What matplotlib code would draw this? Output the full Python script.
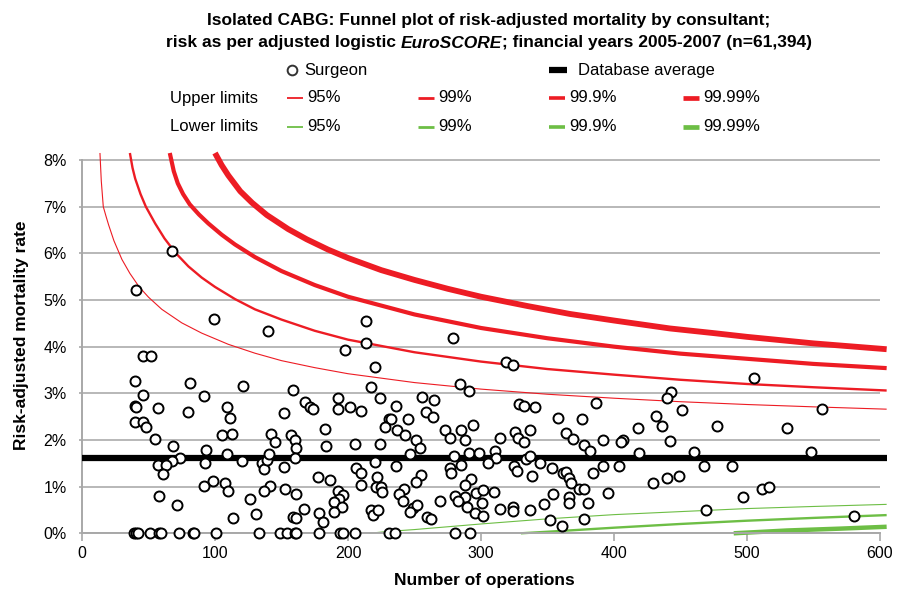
import matplotlib
matplotlib.use('Agg')
import matplotlib.pyplot as plt
from matplotlib.lines import Line2D

plt.rcParams['font.family'] = ['Liberation Sans Narrow', 'Liberation Sans', 'DejaVu Sans']

# ---------------- data ----------------
ops_0_100 = [67.7, 40.6, 99.5, 45.6, 52.1, 39.6, 81.5, 45.6, 92, 39.6, 40.6, 57.3, 79.7, 39.6,
             46.2, 48, 54.6, 68.7, 93, 73.5, 68, 57.5, 63.5, 61, 92.5, 98.5, 91.5, 58, 71.5]
rate_0_100 = [6.06, 5.21, 4.6, 3.81, 3.81, 3.26, 3.22, 2.96, 2.95, 2.73, 2.71, 2.68, 2.59, 2.39,
              2.39, 2.28, 2.02, 1.88, 1.79, 1.61, 1.56, 1.46, 1.46, 1.28, 1.50, 1.12, 1.02, 0.81, 0.61]

ops_100_200 = [139.6, 197.5, 120.8, 158.9, 167.7, 171.4, 173.4, 192.5, 192.5, 201.5, 108.8, 111.5,
               151.9, 105, 112.5, 141.9, 144.8, 157, 160.5, 160.8, 182.7, 183.8, 108.8, 120.4,
               135.5, 137, 138.8, 140.8, 151.9, 160.2, 107.2, 109.6, 177.5, 186.8, 141.2, 136.5,
               152.3, 160.8, 126.5, 192.7, 196.5, 193.2, 189.7, 195.3, 189.7, 166.7, 130.7, 113.7,
               158.6, 160.7, 178, 181]
rate_100_200 = [4.34, 3.93, 3.16, 3.07, 2.81, 2.70, 2.67, 2.91, 2.66, 2.71, 2.70, 2.47,
                2.57, 2.10, 2.13, 2.13, 1.96, 2.10, 1.99, 1.83, 2.24, 1.88, 1.70, 1.55,
                1.50, 1.37, 1.57, 1.69, 1.43, 1.61, 1.07, 0.91, 1.21, 1.15, 1.02, 0.91,
                0.94, 0.84, 0.74, 0.91, 0.82, 0.74, 0.68, 0.57, 0.46, 0.52, 0.41, 0.32,
                0.34, 0.33, 0.43, 0.25]

ops_200_300 = [213.8, 279, 213.8, 220, 284, 290.7, 217.5, 223.8, 255.6, 264.7, 210, 235.8,
               230.6, 232, 228, 245, 258.9, 264.2, 237, 243, 251.4, 253.9, 246.4, 272.7,
               276.4, 285.2, 288.2, 294, 205.5, 223.8, 279.7, 285.2, 290.7, 298.5, 220, 235.8,
               206, 210, 277, 277.7, 255, 251.4, 292.2, 287.7, 210, 222, 221.3, 225,
               225.8, 242, 238, 241.4, 269, 280.7, 288.2, 296.5, 282.7, 289.7, 295.2, 301,
               217.5, 218.8, 222.6, 248.9, 252.1, 246.4, 259.6, 262.2]
rate_200_300 = [4.56, 4.18, 4.07, 3.57, 3.21, 3.05, 3.14, 2.91, 2.93, 2.86, 2.63, 2.73,
                2.46, 2.46, 2.28, 2.46, 2.59, 2.49, 2.21, 2.11, 2.0, 1.82, 1.71, 2.21,
                2.04, 2.21, 2.0, 2.32, 1.91, 1.91, 1.66, 1.46, 1.73, 1.73, 1.53, 1.44,
                1.39, 1.29, 1.39, 1.30, 1.25, 1.11, 1.16, 1.03, 1.03, 1.20, 1.00, 0.99,
                0.89, 0.96, 0.84, 0.70, 0.70, 0.80, 0.78, 0.86, 0.70, 0.57, 0.43, 0.66,
                0.50, 0.39, 0.50, 0.54, 0.61, 0.46, 0.34, 0.30]

ops_300_400 = [318.8, 324.3, 386.5, 328.8, 332, 340.9, 357.6, 376, 337, 325.8, 327.6, 332,
               363.9, 368.9, 314.3, 391.5, 377.2, 382.2, 310.8, 311.3, 305.5, 333.8, 337, 344.6,
               325, 327, 338, 353.4, 361.4, 363.9, 366.4, 367.7, 384, 391.5, 374, 377.2,
               301.5, 301.5, 310, 353.9, 366.4, 366.4, 347.6, 380.2, 395.2, 314.5, 323.8, 324.3,
               336.8, 352.1, 360.9, 377.2]
rate_300_400 = [3.68, 3.61, 2.79, 2.77, 2.73, 2.71, 2.48, 2.44, 2.21, 2.18, 2.04, 1.96,
                2.14, 2.02, 2.04, 2.0, 1.89, 1.76, 1.77, 1.62, 1.50, 1.59, 1.66, 1.50,
                1.45, 1.33, 1.23, 1.40, 1.29, 1.31, 1.18, 1.07, 1.30, 1.45, 0.95, 0.96,
                0.93, 0.37, 0.88, 0.84, 0.77, 0.66, 0.63, 0.66, 0.87, 0.52, 0.57, 0.48,
                0.50, 0.29, 0.16, 0.30]

ops_400_500 = [442.6, 439.6, 451.4, 431.8, 436.3, 418, 477.2, 407, 405.5, 442.1, 418.8, 460.2,
               403.8, 467.7, 489, 440.1, 448.9, 429.3, 497.2, 468.9]
rate_400_500 = [3.02, 2.91, 2.64, 2.51, 2.30, 2.26, 2.29, 2.0, 1.95, 1.98, 1.73, 1.75,
                1.45, 1.45, 1.45, 1.19, 1.23, 1.07, 0.78, 0.50]

ops_500_600 = [505.2, 556.1, 530.3, 547.8, 511, 516.8, 580.4]
rate_500_600 = [3.32, 2.66, 2.26, 1.74, 0.95, 0.99, 0.37]

ops_zero_deaths = [38.8, 40.5, 42, 50.9, 58, 59.4, 72.7, 83.5, 84.5, 100.5, 133, 149, 154, 160,
                   161, 178, 194, 196, 205, 230.6, 235, 280.7, 291.5]

database_average = 1.62

upper95_n = [13.5, 14.5, 16, 18, 20, 24, 30, 36, 43, 50, 60, 75, 90, 110, 130, 150, 175, 200,
             250, 300, 350, 400, 450, 500, 550, 605]
upper95_rate = [8.15, 7.55, 7.0, 6.80, 6.61, 6.27, 5.87, 5.57, 5.28, 5.06, 4.80, 4.51, 4.29,
                4.05, 3.86, 3.70, 3.55, 3.42, 3.23, 3.09, 2.98, 2.895, 2.82, 2.76, 2.71, 2.66]
upper99_n = [36, 38, 40, 44, 48, 55, 62, 70, 80, 90, 100, 115, 130, 150, 175, 200, 250, 300,
             350, 400, 450, 500, 550, 605]
upper99_rate = [8.15, 7.83, 7.60, 7.27, 7.00, 6.64, 6.32, 6.02, 5.72, 5.48, 5.28, 5.02, 4.80,
                4.58, 4.34, 4.15, 3.88, 3.68, 3.52, 3.40, 3.29, 3.20, 3.13, 3.06]
upper999_n = [66, 69, 72, 76, 81, 88, 95, 105, 115, 130, 150, 175, 200, 250, 300, 350, 400,
              450, 500, 550, 605]
upper999_rate = [8.15, 7.76, 7.50, 7.27, 7.05, 6.83, 6.64, 6.40, 6.19, 5.92, 5.62, 5.32, 5.07,
                 4.69, 4.40, 4.18, 4.00, 3.85, 3.74, 3.63, 3.54]
upper9999_n = [100, 105, 110, 119, 128, 139, 155, 169, 185, 200, 225, 250, 275, 300, 335, 367,
               400, 442, 475, 500, 550, 605]
upper9999_rate = [8.15, 7.89, 7.67, 7.33, 7.08, 6.82, 6.52, 6.30, 6.08, 5.90, 5.64, 5.43, 5.24,
                  5.07, 4.87, 4.70, 4.56, 4.39, 4.29, 4.21, 4.07, 3.945]

lower95_n = [216, 230, 250, 275, 300, 350, 400, 450, 500, 550, 605]
lower95_rate = [0.0, 0.04, 0.08, 0.14, 0.20, 0.31, 0.40, 0.465, 0.53, 0.575, 0.62]
lower99_n = [330, 360, 400, 450, 500, 550, 605]
lower99_rate = [0.0, 0.05, 0.12, 0.20, 0.27, 0.33, 0.39]
lower999_n = [490, 530, 570, 605]
lower999_rate = [0.0, 0.06, 0.10, 0.14]

x_ticks = [0, 100, 200, 300, 400, 500, 600]
y_ticks = [0, 1, 2, 3, 4, 5, 6, 7, 8]
y_tick_labels = ['0%', '1%', '2%', '3%', '4%', '5%', '6%', '7%', '8%']

# ---------------- figure ----------------
W, H = 898, 591
fig = plt.figure(figsize=(W / 100, H / 100), dpi=100)
ax = fig.add_axes([82 / W, 57.7 / H, (880 - 82) / W, (438 - 57.7) / H])
ax.set_xlim(0, 600)
ax.set_ylim(0, 8.15)

RED = '#ED1C24'
GREEN = '#6DBE45'
GRID = '#b8b8b8'

ax.set_yticks(y_ticks)
ax.set_yticklabels(y_tick_labels)
ax.set_xticks(x_ticks)
ax.yaxis.grid(True, color=GRID, lw=1.4, zorder=0)
ax.set_axisbelow(True)
for s in ['top', 'right']:
    ax.spines[s].set_visible(False)
for s in ['left', 'bottom']:
    ax.spines[s].set_color('#a8a8a8')
    ax.spines[s].set_linewidth(1.4)
ax.spines['left'].set_bounds(0, 8)
ax.tick_params(axis='x', direction='out', length=6, width=1.2, color='#a8a8a8', pad=3, labelsize=11.5)
ax.tick_params(axis='y', length=2, width=1.2, color='#a8a8a8', pad=9, labelsize=11.5)

upper = [(upper95_n, upper95_rate, 0.8), (upper99_n, upper99_rate, 1.7),
         (upper999_n, upper999_rate, 3.0), (upper9999_n, upper9999_rate, 4.2)]
for n, r, lw in upper:
    ax.plot(n, r, color=RED, lw=lw, solid_capstyle='butt', solid_joinstyle='round',
            clip_on=False, zorder=2)
lower = [(lower95_n, lower95_rate, 0.8), (lower99_n, lower99_rate, 1.7),
         (lower999_n, lower999_rate, 3.2)]
for n, r, lw in lower:
    ax.plot(n, r, color=GREEN, lw=lw, solid_capstyle='butt', solid_joinstyle='round',
            clip_on=False, zorder=2)

ax.plot([0, 605], [database_average, database_average], color='black', lw=4.5,
        solid_capstyle='butt', clip_on=False, zorder=3)

all_ops = (ops_0_100 + ops_100_200 + ops_200_300 + ops_300_400 + ops_400_500 + ops_500_600
           + ops_zero_deaths)
all_rate = (rate_0_100 + rate_100_200 + rate_200_300 + rate_300_400 + rate_400_500 + rate_500_600
            + [0.0] * len(ops_zero_deaths))
ax.plot(all_ops, all_rate, linestyle='none', marker='o', ms=7.2, mfc='white', mec='black',
        mew=1.4, clip_on=False, zorder=4)

# axis labels
fig.text(484 / W, 1 - 580 / H, 'Number of operations', ha='center', va='center',
         fontsize=12.5, fontweight='bold')
fig.text(22 / W, 1 - 335 / H, 'Risk-adjusted mortality rate', ha='center', va='center',
         rotation=90, fontsize=12.5, fontweight='bold')

# title
TFS = 12.5
fig.text(489 / W, 1 - 20 / H,
         'Isolated CABG: Funnel plot of risk-adjusted mortality by consultant;',
         ha='center', va='center', fontsize=TFS, fontweight='bold')
renderer = fig.canvas.get_renderer()
parts = [('risk as per adjusted logistic ', 'normal'), ('EuroSCORE', 'italic'),
         ('; financial years 2005-2007 (n=61,394)', 'normal')]
texts = [fig.text(0, 1 - 43 / H, s, ha='left', va='center', fontsize=TFS,
                  fontweight='bold', style=st) for s, st in parts]
widths = [t.get_window_extent(renderer).width for t in texts]
xstart = 489 - sum(widths) / 2
for t, w in zip(texts, widths):
    t.set_x(xstart / W)
    xstart += w

# legend
LFS = 12


def fy(py):
    return 1 - py / H


def fx(px):
    return px / W


fig.add_artist(Line2D([fx(292)], [fy(70)], marker='o', ms=7, mfc='white', mec='#333333',
                      mew=1.4, linestyle='none'))
fig.text(fx(304), fy(70), 'Surgeon', ha='left', va='center', fontsize=LFS)
fig.add_artist(Line2D([fx(549), fx(567)], [fy(70), fy(70)], color='black', lw=4.5,
                      solid_capstyle='butt'))
fig.text(fx(578), fy(70), 'Database average', ha='left', va='center', fontsize=LFS)

fig.text(fx(170), fy(98), 'Upper limits', ha='left', va='center', fontsize=LFS)
fig.text(fx(170), fy(127), 'Lower limits', ha='left', va='center', fontsize=LFS)
legend_x = [287, 418, 549, 683]
legend_labels = ['95%', '99%', '99.9%', '99.99%']
legend_lw = [1.3, 2.0, 2.6, 3.4]
for lx, lab, lw in zip(legend_x, legend_labels, legend_lw):
    for py, col in [(98, RED), (127, GREEN)]:
        fig.add_artist(Line2D([fx(lx), fx(lx + 16)], [fy(py), fy(py)], color=col, lw=lw,
                              solid_capstyle='butt'))
        fig.text(fx(lx + 20), fy(py), lab, ha='left', va='center', fontsize=LFS)

fig.savefig('out.png', dpi=100)
